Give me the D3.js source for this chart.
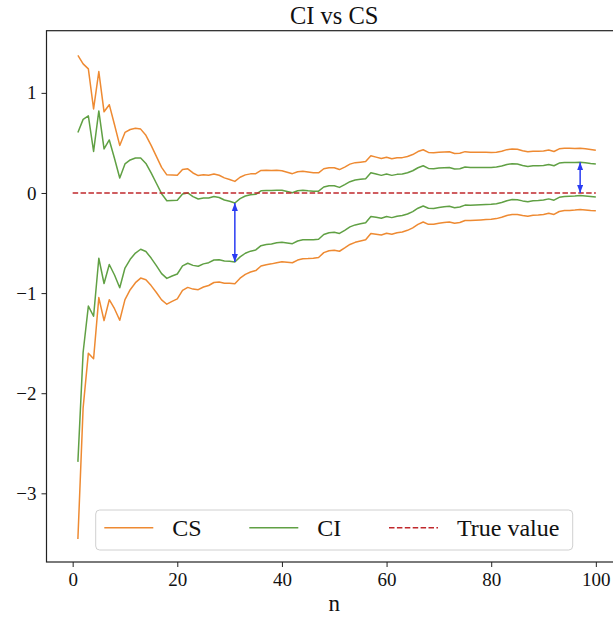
<!DOCTYPE html>
<html>
<head>
<meta charset="utf-8">
<script src="https://cdn.jsdelivr.net/npm/d3@7"></script>
<style>
  html, body { margin: 0; padding: 0; background: #fff; }
  svg { display: block; }
  text { font-family: "Liberation Serif", "DejaVu Serif", serif; fill: #111; }
</style>
</head>
<body>
<svg id="chart" width="613" height="618"></svg>
<script>
// Running estimate of the mean after n observations
const sampleMean = [
  -1.041, -0.428, -0.180, -0.408, 0.084, -0.232, -0.092, -0.237, -0.398, -0.230,
  -0.166, -0.125, -0.106, -0.145, -0.225, -0.314, -0.406, -0.465, -0.452, -0.441,
  -0.369, -0.351, -0.380, -0.396, -0.379, -0.373, -0.352, -0.356, -0.375, -0.383,
  -0.395, -0.347, -0.316, -0.299, -0.291, -0.252, -0.245, -0.242, -0.235, -0.232,
  -0.242, -0.252, -0.229, -0.220, -0.223, -0.225, -0.222, -0.177, -0.162, -0.160,
  -0.174, -0.145, -0.113, -0.095, -0.086, -0.077, -0.016, -0.027, -0.038, -0.023,
  -0.035, -0.023, -0.018, -0.004, 0.018, 0.050, 0.071, 0.046, 0.044, 0.052,
  0.057, 0.061, 0.046, 0.051, 0.069, 0.066, 0.068, 0.069, 0.070, 0.071,
  0.076, 0.087, 0.104, 0.113, 0.111, 0.098, 0.089, 0.097, 0.098, 0.102,
  0.113, 0.100, 0.128, 0.135, 0.136, 0.137, 0.141, 0.136, 0.130, 0.125
];

// Half-width of the fixed-n confidence interval
const ciHalfWidth = [
  1.645, 1.163, 0.950, 0.823, 0.736, 0.672, 0.622, 0.582, 0.548, 0.520,
  0.496, 0.475, 0.456, 0.440, 0.425, 0.411, 0.399, 0.388, 0.377, 0.368,
  0.359, 0.351, 0.343, 0.336, 0.329, 0.323, 0.317, 0.311, 0.305, 0.300,
  0.295, 0.291, 0.286, 0.282, 0.278, 0.274, 0.270, 0.267, 0.263, 0.260,
  0.257, 0.254, 0.251, 0.248, 0.245, 0.243, 0.240, 0.237, 0.235, 0.233,
  0.230, 0.228, 0.226, 0.224, 0.222, 0.220, 0.218, 0.216, 0.214, 0.212,
  0.211, 0.209, 0.207, 0.206, 0.204, 0.202, 0.201, 0.199, 0.198, 0.197,
  0.195, 0.194, 0.193, 0.191, 0.190, 0.189, 0.187, 0.186, 0.185, 0.184,
  0.183, 0.182, 0.181, 0.179, 0.178, 0.177, 0.176, 0.175, 0.174, 0.173,
  0.172, 0.172, 0.171, 0.170, 0.169, 0.168, 0.167, 0.166, 0.165, 0.1645
];

// Half-width of the time-uniform confidence sequence
const csHalfWidth = [
  2.415, 1.718, 1.420, 1.248, 1.129, 1.043, 0.974, 0.919, 0.873, 0.835,
  0.800, 0.771, 0.744, 0.721, 0.700, 0.680, 0.662, 0.646, 0.631, 0.617,
  0.604, 0.592, 0.580, 0.570, 0.560, 0.551, 0.542, 0.533, 0.526, 0.518,
  0.511, 0.504, 0.497, 0.490, 0.484, 0.477, 0.471, 0.466, 0.461, 0.455,
  0.450, 0.445, 0.441, 0.436, 0.432, 0.427, 0.423, 0.419, 0.415, 0.412,
  0.408, 0.404, 0.401, 0.398, 0.394, 0.391, 0.388, 0.385, 0.382, 0.380,
  0.377, 0.374, 0.371, 0.369, 0.366, 0.364, 0.361, 0.359, 0.357, 0.354,
  0.352, 0.350, 0.348, 0.346, 0.344, 0.342, 0.340, 0.338, 0.336, 0.334,
  0.332, 0.330, 0.329, 0.327, 0.325, 0.323, 0.322, 0.320, 0.319, 0.317,
  0.316, 0.314, 0.313, 0.311, 0.310, 0.308, 0.307, 0.305, 0.304, 0.3025
];

const trueValue = 0;
const trueValueSpan = [0, 100];
const xTicks = [0, 20, 40, 60, 80, 100];
const yTicks = [-3, -2, -1, 0, 1];
const arrowAtN = [31, 97];          // n where the gap arrows are drawn
const legendLabels = ["CS", "CI", "True value"];

const colors = { cs: "#ee8a32", ci: "#60a044", truth: "#c0282c", arrow: "#2a3cf2" };

const n = sampleMean.map((_, i) => i + 1);
const rows = n.map((k, i) => ({
  n: k,
  csUp: sampleMean[i] + csHalfWidth[i],
  csLo: sampleMean[i] - csHalfWidth[i],
  ciUp: sampleMean[i] + ciHalfWidth[i],
  ciLo: sampleMean[i] - ciHalfWidth[i]
}));

const svg = d3.select("#chart");
const plot = { left: 46.5, right: 622, top: 30.7, bottom: 562 };

const x = d3.scaleLinear().domain([-5, 105]).range([plot.left, plot.right]);
const y = d3.scaleLinear().domain([-3.686, 1.621]).range([plot.bottom, plot.top]);

const fmt = v => (v < 0 ? "\u2212" + Math.abs(v) : String(v));

// Curves
const line = key => d3.line().x(d => x(d.n)).y(d => y(d[key]));
const curves = svg.append("g").attr("fill", "none").attr("stroke-width", 1.5)
  .attr("stroke-linejoin", "round");
[["csUp", colors.cs], ["csLo", colors.cs], ["ciUp", colors.ci], ["ciLo", colors.ci]]
  .forEach(([key, c]) => curves.append("path").datum(rows).attr("stroke", c).attr("d", line(key)));

// True value reference
svg.append("line")
  .attr("x1", x(trueValueSpan[0])).attr("x2", x(trueValueSpan[1]))
  .attr("y1", y(trueValue)).attr("y2", y(trueValue))
  .attr("stroke", colors.truth).attr("stroke-width", 1.5)
  .attr("stroke-dasharray", "5.5,2.4");

// Double-headed arrows
const defs = svg.append("defs");
defs.append("marker")
  .attr("id", "head").attr("viewBox", "0 0 8 6")
  .attr("refX", 8).attr("refY", 3)
  .attr("markerWidth", 8).attr("markerHeight", 6)
  .attr("markerUnits", "userSpaceOnUse")
  .attr("orient", "auto-start-reverse")
  .append("path").attr("d", "M0,0L8,3L0,6Z").attr("fill", colors.arrow);

const arrowSpans = [
  { n: arrowAtN[0], from: rows[arrowAtN[0] - 1].ciUp, to: rows[arrowAtN[0] - 1].ciLo },
  { n: arrowAtN[1], from: rows[arrowAtN[1] - 1].ciUp, to: trueValue }
];
svg.append("g").selectAll("line").data(arrowSpans).join("line")
  .attr("x1", d => x(d.n)).attr("x2", d => x(d.n))
  .attr("y1", d => y(d.from)).attr("y2", d => y(d.to))
  .attr("stroke", colors.arrow).attr("stroke-width", 1.5)
  .attr("marker-start", "url(#head)").attr("marker-end", "url(#head)");

// Axes
const xAxis = svg.append("g").attr("transform", `translate(0,${plot.bottom})`)
  .call(d3.axisBottom(x).tickValues(xTicks).tickSize(5).tickPadding(6).tickFormat(fmt));
const yAxis = svg.append("g").attr("transform", `translate(${plot.left},0)`)
  .call(d3.axisLeft(y).tickValues(yTicks).tickSize(5).tickPadding(5).tickFormat(fmt));
[xAxis, yAxis].forEach(a => {
  a.select(".domain").remove();
  a.selectAll(".tick line").attr("stroke", "#222").attr("stroke-width", 1);
  a.selectAll(".tick text").attr("font-size", 19).attr("fill", "#111")
    .style("font-family", "'Liberation Serif', serif");
});

// Frame
svg.append("rect")
  .attr("x", plot.left).attr("y", plot.top)
  .attr("width", plot.right - plot.left).attr("height", plot.bottom - plot.top)
  .attr("fill", "none").attr("stroke", "#222").attr("stroke-width", 1.2);

// Titles
svg.append("text").attr("x", (plot.left + plot.right) / 2).attr("y", 24)
  .attr("text-anchor", "middle").attr("font-size", 24.5).text("CI vs CS");
svg.append("text").attr("x", (plot.left + plot.right) / 2).attr("y", 611)
  .attr("text-anchor", "middle").attr("font-size", 23).text("n");

// Legend
const legend = svg.append("g");
legend.append("rect")
  .attr("x", 95.7).attr("y", 510).attr("width", 477).attr("height", 40).attr("rx", 4)
  .attr("fill", "#fff").attr("fill-opacity", 0.8)
  .attr("stroke", "#d0d0d0").attr("stroke-width", 1);
const legendItems = [
  { label: legendLabels[0], color: colors.cs, dash: null, x0: 104.3 },
  { label: legendLabels[1], color: colors.ci, dash: null, x0: 249.3 },
  { label: legendLabels[2], color: colors.truth, dash: "5.5,2.4", x0: 389 }
];
legendItems.forEach(it => {
  legend.append("line")
    .attr("x1", it.x0).attr("x2", it.x0 + 49).attr("y1", 527.7).attr("y2", 527.7)
    .attr("stroke", it.color).attr("stroke-width", 1.5)
    .attr("stroke-dasharray", it.dash);
  legend.append("text").attr("x", it.x0 + 68).attr("y", 536)
    .attr("font-size", 24).text(it.label);
});
</script>
</body>
</html>
